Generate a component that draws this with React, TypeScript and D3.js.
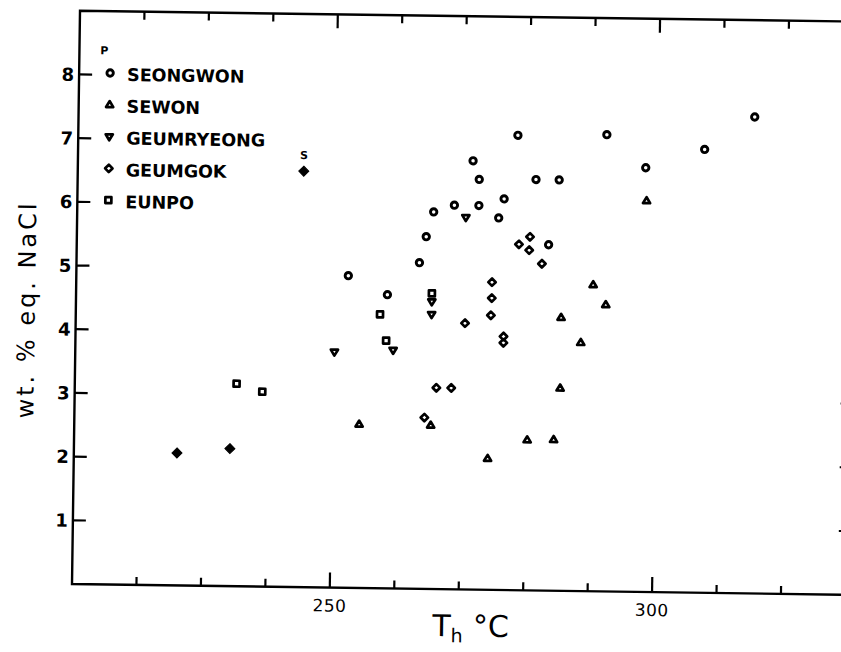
import React from "react";
import * as d3 from "d3";

const seongwonT = [258.3, 263.2, 264.2, 265.3, 268.5, 271.3, 272.3, 272.3, 276.2, 275.4, 278.2, 281.1, 284.7, 283.2, 292.0, 298.1, 307.2, 314.9, 252.2];
const seongwonS = [4.61, 5.12, 5.53, 5.92, 6.03, 6.73, 6.44, 6.03, 6.14, 5.84, 7.14, 6.45, 6.45, 5.43, 7.17, 6.66, 6.96, 7.48, 4.9];

const sewonT = [254.2, 265.3, 274.2, 280.3, 284.4, 285.3, 285.3, 288.4, 290.2, 292.2, 298.3];
const sewonS = [2.57, 2.57, 2.06, 2.36, 2.37, 3.18, 4.29, 3.9, 4.81, 4.5, 6.14];

const geumryeongT = [250.2, 259.3, 265.2, 265.2, 270.3];
const geumryeongS = [3.7, 3.74, 4.51, 4.31, 5.84];

const geumgokT = [264.3, 266.1, 268.4, 270.4, 274.4, 274.5, 274.5, 276.4, 276.4, 278.6, 280.3, 280.2, 282.2];
const geumgokS = [2.69, 3.16, 3.16, 4.18, 4.31, 4.58, 4.83, 3.98, 3.88, 5.43, 5.55, 5.34, 5.13];

const eunpoT = [235.1, 239.1, 257.2, 258.2, 265.2];
const eunpoS = [3.18, 3.06, 4.3, 3.89, 4.64];

const secondaryT = [226.0, 234.2];
const secondaryS = [2.08, 2.16];

const legendNames = ["SEONGWON", "SEWON", "GEUMRYEONG", "GEUMGOK", "EUNPO"];
const xTickValues = [220, 230, 240, 250, 260, 270, 280, 290, 300, 310, 320];
const xTickLabels = [250, 300];
const yTickValues = [1, 2, 3, 4, 5, 6, 7, 8];
const rightTickValues = [1, 2, 3, 4, 5, 6];

const W = 841;
const H = 652;
const ox = 72;
const oy = 584;

const x = d3.scaleLinear().domain([210, 330.7]).range([ox, 850]);
const y = d3.scaleLinear().domain([0, 9]).range([oy, oy - 9 * 63.7]);

type Shape = "circle" | "tri" | "dtri" | "diamond" | "square" | "fdiamond";

function markerPath(shape: Shape): string {
  switch (shape) {
    case "tri":
      return "M0,-3.7L3.6,2.3L-3.6,2.3Z";
    case "dtri":
      return "M0,3.7L3.6,-2.3L-3.6,-2.3Z";
    case "diamond":
      return "M0,-3.7L3.7,0L0,3.7L-3.7,0Z";
    case "square":
      return "M-3,-3L3,-3L3,3L-3,3Z";
    case "fdiamond":
      return "M0,-5L5,0L0,5L-5,0Z";
    default:
      return "";
  }
}

function Marker({ shape, cx, cy }: { shape: Shape; cx: number; cy: number }) {
  if (shape === "circle") {
    return <circle cx={cx} cy={cy} r={3.2} fill="none" stroke="#000" strokeWidth={2.9} />;
  }
  if (shape === "fdiamond") {
    return <path d={markerPath(shape)} transform={`translate(${cx},${cy})`} fill="#000" stroke="#000" strokeWidth={1} />;
  }
  return (
    <path
      d={markerPath(shape)}
      transform={`translate(${cx},${cy})`}
      fill="none"
      stroke="#000"
      strokeWidth={2.7}
      strokeLinejoin="round"
    />
  );
}

const series: { t: number[]; s: number[]; shape: Shape }[] = [
  { t: seongwonT, s: seongwonS, shape: "circle" },
  { t: sewonT, s: sewonS, shape: "tri" },
  { t: geumryeongT, s: geumryeongS, shape: "dtri" },
  { t: geumgokT, s: geumgokS, shape: "diamond" },
  { t: eunpoT, s: eunpoS, shape: "square" },
  { t: secondaryT, s: secondaryS, shape: "fdiamond" },
];

const legendShapes: Shape[] = ["circle", "tri", "dtri", "diamond", "square"];

export default function App() {
  const x0 = x(210);
  const x1 = x.range()[1];
  const yTop = y(9);
  return (
    <svg
      width={W}
      height={H}
      viewBox={`0 0 ${W} ${H}`}
      style={{ position: "absolute", left: 0, top: 0, background: "#fff" }}
    >
      <rect x={0} y={0} width={W} height={H} fill="#fff" />
      <g transform={`rotate(0.8, ${ox}, ${oy})`}>
        <path
          d={`M${x1},${yTop}L${x0},${yTop}L${x0},${oy}L${x1},${oy}`}
          fill="none"
          stroke="#000"
          strokeWidth={2.4}
        />
        <line x1={x1} y1={yTop} x2={x1} y2={oy} stroke="#000" strokeWidth={2.4} />
        {xTickValues.map((v) => {
          const major = v % 50 === 0;
          return (
            <g key={"xt" + v}>
              <line x1={x(v)} x2={x(v)} y1={oy} y2={oy - (major ? 15 : 8)} stroke="#000" strokeWidth={2.2} />
              <line x1={x(v)} x2={x(v)} y1={yTop} y2={yTop + (major ? 14 : 8)} stroke="#000" strokeWidth={2.2} />
            </g>
          );
        })}
        {xTickLabels.map((v) => (
          <text
            key={"xl" + v}
            x={x(v)}
            y={oy + 24}
            textAnchor="middle"
            fontFamily="DejaVu Sans"
            fontSize={17}
            letterSpacing={0.5}
          >
            {v}
          </text>
        ))}
        {yTickValues.map((v) => (
          <g key={"yt" + v}>
            <line x1={x0} x2={x0 + 13} y1={y(v)} y2={y(v)} stroke="#000" strokeWidth={2.2} />
            <text
              x={x0 - 5}
              y={y(v)}
              dy="0.36em"
              textAnchor="end"
              fontFamily="DejaVu Sans"
              fontWeight="bold"
              fontSize={18}
            >
              {v}
            </text>
          </g>
        ))}
        {rightTickValues.map((v) => (
          <line key={"rt" + v} x1={x1} x2={x1 - 12} y1={y(v)} y2={y(v)} stroke="#000" strokeWidth={2} />
        ))}
        <text
          transform={`translate(31, ${y(4.3)}) rotate(-90)`}
          textAnchor="middle"
          fontFamily="DejaVu Sans"
          fontSize={24}
          letterSpacing={3}
        >
          wt. % eq. NaCl
        </text>
        <text x={433} y={oy + 47} textAnchor="start" fontFamily="DejaVu Sans" fontSize={30}>
          T
          <tspan fontSize={19} dy={6}>h</tspan>
          <tspan dy={-6} dx={10}>°C</tspan>
        </text>
        <text x={97} y={50} textAnchor="middle" dy="0.36em" fontFamily="DejaVu Sans" fontWeight="bold" fontSize={11}>
          P
        </text>
        {legendNames.map((name, i) => {
          const ly = 72.5 + i * 31.8;
          return (
            <g key={name}>
              <Marker shape={legendShapes[i]} cx={103} cy={ly} />
              <text
                x={120}
                y={ly + 1.5}
                dy="0.36em"
                fontFamily="DejaVu Sans"
                fontWeight="bold"
                fontSize={17.5}
              >
                {name}
              </text>
            </g>
          );
        })}
        <text x={298} y={152} textAnchor="middle" dy="0.36em" fontFamily="DejaVu Sans" fontWeight="bold" fontSize={11}>
          S
        </text>
        <Marker shape="fdiamond" cx={298} cy={168} />
        {series.map((sr, si) =>
          sr.t.map((t, i) => <Marker key={si + "-" + i} shape={sr.shape} cx={x(t)} cy={y(sr.s[i])} />)
        )}
      </g>
    </svg>
  );
}
